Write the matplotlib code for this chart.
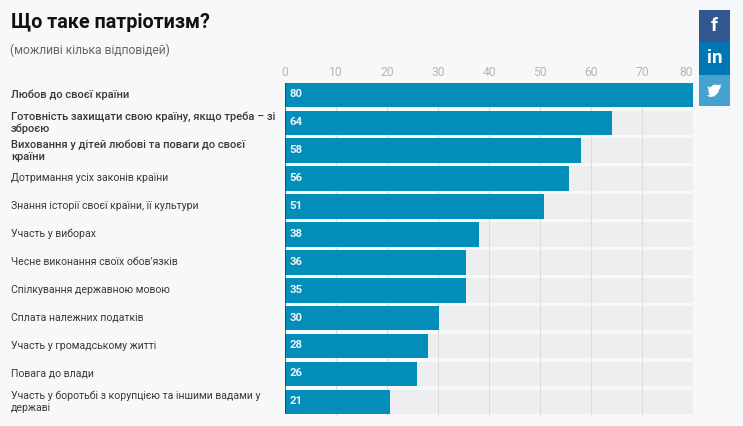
import matplotlib
matplotlib.use("Agg")
import matplotlib.pyplot as plt
from matplotlib.patches import Rectangle, Polygon

plt.rcParams['font.family'] = ['Roboto', 'DejaVu Sans']

categories = [
    "Любов до своєї країни",
    "Готовність захищати свою країну, якщо треба – зі\nзброєю",
    "Виховання у дітей любові та поваги до своєї\nкраїни",
    "Дотримання усіх законів країни",
    "Знання історії своєї країни, її культури",
    "Участь у виборах",
    "Чесне виконання своїх обов’язків",
    "Спілкування державною мовою",
    "Сплата належних податків",
    "Участь у громадському житті",
    "Повага до влади",
    "Участь у боротьбі з корупцією та іншими вадами у\nдержаві",
]
values = [80, 64, 58, 55.6, 50.7, 38, 35.4, 35.4, 30.1, 28, 25.8, 20.6]
value_labels = ["80", "64", "58", "56", "51", "38", "36", "35", "30", "28", "26", "21"]
bold_rows = [0, 1, 2]
ticks = [0, 10, 20, 30, 40, 50, 60, 70, 80]

W, H = 743, 426
BG = "#f7f8fa"
BAR = "#038eba"
BAND = "#edeef0"
GRID = "#dcdddf"

fig = plt.figure(figsize=(W / 100, H / 100), dpi=100, facecolor=BG)

# axes box in pixels
left, right, top, bottom = 285, 693.3, 81, 415.8
ax = fig.add_axes([left / W, 1 - bottom / H, (right - left) / W, (bottom - top) / H])
ax.set_facecolor(BG)
ax.set_xlim(0, 80)
ax.set_ylim(len(values) - 0.5, -0.5)

ax.barh(range(len(values)), [80] * len(values), height=0.88, color=BAND, zorder=1)
ax.vlines(ticks[1:], -0.45, len(values) - 0.5, color=GRID, lw=0.8, zorder=2)
ax.barh(range(len(values)), values, height=0.88, color=BAR, zorder=4)
ax.vlines(0, 0 - 0.44, len(values) - 0.56, color="#2a3a44", lw=1.1, zorder=5)

for i, lab in enumerate(value_labels):
    ax.text(0.85, i - 0.02, lab, color="#e8f4f8", fontsize=8.2, fontweight="bold", va="center", ha="left", zorder=6)

for i, cat in enumerate(categories):
    is_bold = i in bold_rows
    ax.annotate(cat, xy=(0, i), xycoords=("axes fraction", "data"), xytext=((11 - left) * 0.72, 0.2),
                textcoords="offset points", fontsize=8.05 if is_bold else 7.55, color="#3a3a3a", va="center", ha="left",
                linespacing=1.2, fontweight=500 if is_bold else "normal")

ax.xaxis.tick_top()
ax.set_xticks(ticks)
ax.set_yticks([])
ax.tick_params(axis="x", length=0, pad=1.5, labelsize=8.7, labelcolor="#b5b5b5")
# last label sits inside the right edge
ax.get_xticklabels()[-1].set_ha("right")
for s in ax.spines.values():
    s.set_visible(False)

fig.text(11 / W, 1 - 23 / H, "Що таке патріотизм?", fontsize=14.2, fontweight="bold", color="#111111", va="center")
fig.text(10.5 / W, 1 - 50.5 / H, "(можливі кілька відповідей)", fontsize=8.75, color="#666666", va="center")

# share buttons
over = fig.add_axes([0, 0, 1, 1], facecolor="none")
over.set_xlim(0, W)
over.set_ylim(H, 0)
over.axis("off")
over.add_patch(Rectangle((699, 10), 31, 32, color="#30588f", lw=0))
over.add_patch(Rectangle((699, 42), 31, 33, color="#0077b2", lw=0))
over.add_patch(Rectangle((699, 75), 31, 31, color="#45a1ce", lw=0))
over.text(714.5, 26, "f", color="white", fontsize=14, fontweight="bold", ha="center", va="center")
over.text(714.5, 58, "in", color="white", fontsize=13.5, fontweight="bold", ha="center", va="center")
bird = [(707, 86), (710, 87.5), (713, 85), (715.5, 84.5), (718, 85), (721.5, 84.5), (720, 87), (721, 87.5),
        (719.5, 89), (718, 93), (714, 96.5), (710, 97), (706.5, 95.5), (710, 95), (708, 92.5), (709.5, 92.5),
        (707.5, 89.5), (709, 90)]
over.add_patch(Polygon(bird, closed=True, color="white", lw=0))

fig.savefig("out.png", dpi=100, facecolor=BG)
